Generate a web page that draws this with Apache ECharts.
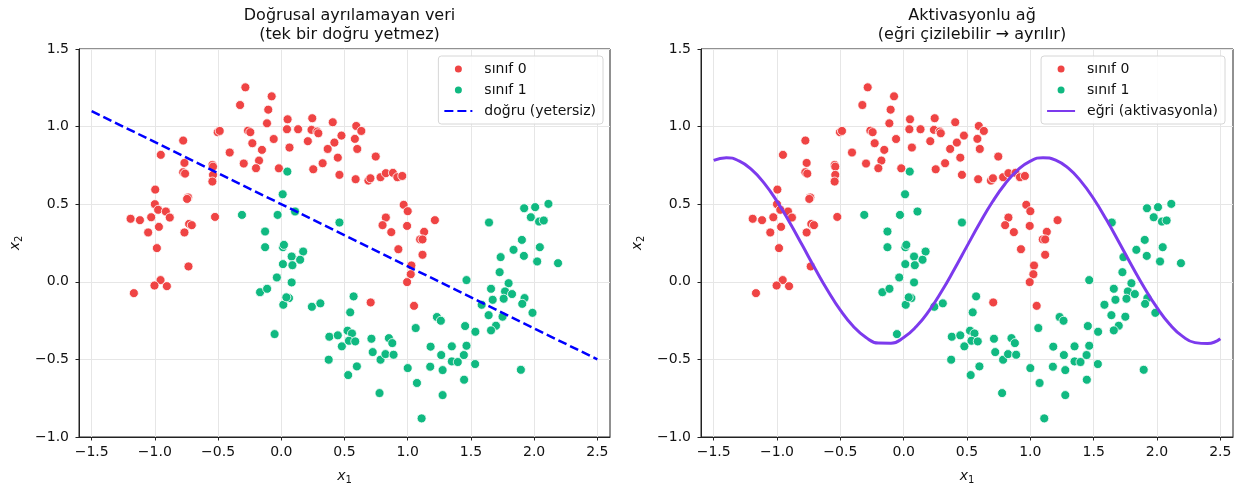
<!DOCTYPE html>
<html>
<head>
<meta charset="utf-8">
<script src="https://cdn.jsdelivr.net/npm/echarts@6/dist/echarts.min.js"></script>
<style>
  html, body { margin: 0; padding: 0; background: #fff; }
  #chart { width: 1239px; height: 491px; }
</style>
</head>
<body>
<div id="chart"></div>
<script>
// sınıf 0 (kırmızı) noktalar
const class0 = [
  [-0.284, 1.253], [-0.076, 1.195], [-0.326, 1.139], [-0.103, 1.109], [-0.113, 1.021],
  [0.05, 1.047], [0.045, 0.983], [-0.503, 0.964], [-0.487, 0.972], [-0.263, 0.974],
  [-0.245, 0.964], [-0.776, 0.91], [-0.06, 0.92], [-0.229, 0.893], [-0.153, 0.85],
  [-0.408, 0.833], [-0.953, 0.818], [0.065, 0.865], [-0.176, 0.781], [-0.297, 0.762],
  [-0.2, 0.732], [-0.019, 0.731], [-0.766, 0.766], [-0.776, 0.706], [-0.761, 0.697],
  [-0.545, 0.753], [-0.54, 0.742], [-0.54, 0.689], [-0.545, 0.646], [-0.997, 0.594],
  [-0.737, 0.543], [-0.745, 0.534], [-1.0, 0.5], [-0.974, 0.464], [-0.913, 0.453],
  [-0.882, 0.414], [-1.192, 0.406], [-1.118, 0.397], [-1.029, 0.416], [-0.968, 0.354],
  [-1.053, 0.318], [-0.766, 0.318], [-0.729, 0.373], [-0.708, 0.365], [-0.524, 0.418],
  [-0.984, 0.217], [-0.734, 0.099], [-0.955, 0.011], [-1.003, -0.024], [-0.905, -0.028],
  [-1.166, -0.073], [0.245, 1.054], [0.407, 1.028], [0.133, 0.983], [0.239, 0.979],
  [0.285, 0.968], [0.293, 0.957], [0.593, 1.004], [0.633, 0.972], [0.476, 0.942],
  [0.21, 0.906], [0.42, 0.897], [0.582, 0.921], [0.367, 0.856], [0.601, 0.856],
  [0.747, 0.807], [0.327, 0.764], [0.447, 0.8], [0.253, 0.725], [0.46, 0.689],
  [0.588, 0.661], [0.689, 0.652], [0.705, 0.667], [0.785, 0.674], [0.827, 0.7],
  [0.883, 0.702], [0.918, 0.674], [0.957, 0.682], [0.968, 0.496], [1.0, 0.455],
  [0.827, 0.414], [0.801, 0.365], [0.87, 0.32], [0.995, 0.36], [1.215, 0.397],
  [1.13, 0.322], [1.098, 0.273], [1.117, 0.273], [0.926, 0.21], [1.117, 0.174],
  [1.029, 0.105], [1.024, 0.049], [0.995, -0.002], [0.707, -0.133], [1.05, -0.155]
];

// sınıf 1 (yeşil) noktalar
const class1 = [
  [0.048, 0.71], [0.011, 0.564], [-0.311, 0.431], [-0.029, 0.431], [0.109, 0.453],
  [0.46, 0.382], [-0.128, 0.324], [-0.128, 0.223], [0.013, 0.223], [0.021, 0.238],
  [0.173, 0.195], [0.082, 0.163], [0.149, 0.142], [0.013, 0.114], [0.088, 0.107],
  [-0.035, 0.028], [0.082, -0.004], [-0.168, -0.067], [-0.112, -0.045], [0.061, -0.105],
  [0.016, -0.148], [0.04, -0.1], [0.242, -0.161], [0.309, -0.139], [0.572, -0.094],
  [0.545, -0.197], [-0.053, -0.337], [0.38, -0.354], [0.447, -0.345], [0.524, -0.315],
  [0.559, -0.333], [0.535, -0.38], [0.585, -0.384], [0.479, -0.416], [0.375, -0.502],
  [0.529, -0.601], [0.598, -0.545], [0.713, -0.367], [0.723, -0.453], [0.785, -0.502],
  [0.824, -0.466], [0.888, -0.47], [0.851, -0.363], [0.878, -0.395], [0.777, -0.717],
  [1.643, 0.382], [1.921, 0.474], [2.008, 0.481], [2.113, 0.502], [1.974, 0.416],
  [2.039, 0.388], [2.076, 0.395], [1.903, 0.27], [1.837, 0.206], [1.919, 0.167],
  [2.045, 0.223], [2.024, 0.131], [2.189, 0.12], [1.735, 0.159], [1.727, 0.062],
  [1.465, 0.011], [1.798, -0.009], [1.659, -0.045], [1.77, -0.062], [1.825, -0.079],
  [1.672, -0.116], [1.759, -0.109], [1.924, -0.105], [1.906, -0.142], [1.585, -0.148],
  [1.64, -0.215], [1.75, -0.225], [1.987, -0.2], [1.698, -0.283], [1.659, -0.313],
  [1.231, -0.227], [1.262, -0.251], [1.063, -0.298], [1.454, -0.285], [1.535, -0.322],
  [1.465, -0.412], [1.349, -0.416], [1.181, -0.418], [1.265, -0.472], [1.444, -0.472],
  [1.349, -0.513], [1.396, -0.517], [1.533, -0.53], [1.0, -0.556], [1.178, -0.547],
  [1.276, -0.569], [1.895, -0.567], [1.073, -0.652], [1.446, -0.631], [1.276, -0.73],
  [1.11, -0.88]
];

// doğru (yetersiz)
const lineX = [-1.5, 2.5];
const lineY = [1.1, -0.5];

// eğri (aktivasyonla)
const curveX = [
  -1.5, -1.4, -1.3, -1.2, -1.1, -1.0, -0.9, -0.8, -0.7, -0.6, -0.5, -0.4, -0.3, -0.2,
  -0.1, 0.0, 0.1, 0.2, 0.3, 0.4, 0.5, 0.6, 0.7, 0.8, 0.9, 1.0, 1.1, 1.2, 1.3, 1.4,
  1.5, 1.6, 1.7, 1.8, 1.9, 2.0, 2.1, 2.2, 2.3, 2.4, 2.5
];
const curveY = [
  0.783, 0.800, 0.779, 0.723, 0.634, 0.518, 0.382, 0.235, 0.086, -0.056, -0.183, -0.285,
  -0.357, -0.395, -0.396, -0.359, -0.288, -0.187, -0.061, 0.081, 0.230, 0.377, 0.514,
  0.630, 0.720, 0.778, 0.800, 0.784, 0.732, 0.647, 0.535, 0.401, 0.255, 0.105, -0.038,
  -0.167, -0.273, -0.350, -0.392, -0.398, -0.367
];

const xTicks = [-1.5, -1.0, -0.5, 0.0, 0.5, 1.0, 1.5, 2.0, 2.5];

const FONT = 'DejaVu Sans';
const RED = '#ef4444';
const GREEN = '#10b981';

const chart = echarts.init(document.getElementById('chart'));

function fmt(v) {
  return v.toFixed(1).replace('-', '\u2212');
}

const nameRich = {
  i: { fontFamily: FONT, fontStyle: 'italic', fontSize: 14, color: '#111' },
  s: { fontFamily: FONT, fontSize: 10, color: '#111', padding: [8, 0, 0, 0] }
};

function xAxisFor(gi) {
  return {
    type: 'value', gridIndex: gi, min: -1.6, max: 2.6,
    name: '{i|x}{s|1}', nameLocation: 'middle', nameGap: 30,
    nameTextStyle: { rich: nameRich },
    axisLine: { show: true, onZero: false, lineStyle: { color: '#222' } },
    axisTick: { show: true, length: 3.5, customValues: xTicks, lineStyle: { color: '#222' } },
    axisLabel: { customValues: xTicks, formatter: fmt, margin: 8, fontFamily: FONT, fontSize: 14, color: '#111' },
    splitLine: { show: true, customValues: xTicks, lineStyle: { color: '#e6e6e6', width: 1 } }
  };
}

function yAxisFor(gi) {
  return {
    type: 'value', gridIndex: gi, min: -1.0, max: 1.5, interval: 0.5,
    name: '{i|x}{s|2}', nameLocation: 'middle', nameGap: 55, nameRotate: 90,
    nameTextStyle: { rich: nameRich },
    axisLine: { show: true, onZero: false, lineStyle: { color: '#222' } },
    axisTick: { show: true, length: 3.5, lineStyle: { color: '#222' } },
    axisLabel: { formatter: fmt, margin: 10, fontFamily: FONT, fontSize: 14, color: '#111' },
    splitLine: { show: true, lineStyle: { color: '#e6e6e6', width: 1 } }
  };
}

function legendFor(right, extra) {
  return {
    orient: 'vertical', right: right, top: 56,
    data: [
      { name: 'sınıf 0', icon: 'circle' },
      { name: 'sınıf 1', icon: 'circle' },
      { name: extra, itemStyle: { opacity: 0 } }
    ],
    itemWidth: 28, itemHeight: 9, itemGap: 7,
    padding: [6, 7, 6, 5],
    borderColor: '#d6d6d6', borderWidth: 1, borderRadius: 3,
    backgroundColor: 'rgba(255,255,255,0.85)',
    textStyle: { fontFamily: FONT, fontSize: 14, color: '#111', lineHeight: 14, padding: [0, 0, 0, 7] }
  };
}

function scatterFor(name, data, color, gi) {
  return {
    name: name, type: 'scatter', xAxisIndex: gi, yAxisIndex: gi,
    data: data, symbolSize: 9,
    itemStyle: { color: color, opacity: 1, borderColor: '#fff', borderWidth: 0.8 },
    z: 2
  };
}

const option = {
  animation: false,
  textStyle: { fontFamily: FONT },
  title: [
    {
      text: 'Doğrusal ayrılamayan veri\n(tek bir doğru yetmez)',
      left: 344.5, textAlign: 'center', top: 1,
      textStyle: { fontFamily: FONT, fontSize: 16, fontWeight: 'normal', color: '#111', lineHeight: 19 }
    },
    {
      text: 'Aktivasyonlu ağ\n(eğri çizilebilir → ayrılır)',
      left: 967, textAlign: 'center', top: 1,
      textStyle: { fontFamily: FONT, fontSize: 16, fontWeight: 'normal', color: '#111', lineHeight: 19 }
    }
  ],
  legend: [
    legendFor(636, 'doğru (yetersiz)'),
    legendFor(14, 'eğri (aktivasyonla)')
  ],
  grid: [
    { left: 79, right: 629, top: 49, bottom: 54, show: true, borderColor: '#222', borderWidth: 1, backgroundColor: 'transparent' },
    { left: 701, right: 6, top: 49, bottom: 54, show: true, borderColor: '#222', borderWidth: 1, backgroundColor: 'transparent' }
  ],
  xAxis: [xAxisFor(0), xAxisFor(1)],
  yAxis: [yAxisFor(0), yAxisFor(1)],
  series: [
    scatterFor('sınıf 0', class0, RED, 0),
    scatterFor('sınıf 1', class1, GREEN, 0),
    {
      name: 'doğru (yetersiz)', type: 'line', xAxisIndex: 0, yAxisIndex: 0,
      data: lineX.map((x, i) => [x, lineY[i]]),
      showSymbol: false, symbol: 'none',
      lineStyle: { color: '#0000ff', width: 2.5, type: [9, 4] },
      itemStyle: { color: '#0000ff' },
      z: 3
    },
    scatterFor('sınıf 0', class0, RED, 1),
    scatterFor('sınıf 1', class1, GREEN, 1),
    {
      name: 'eğri (aktivasyonla)', type: 'line', xAxisIndex: 1, yAxisIndex: 1,
      data: curveX.map((x, i) => [x, curveY[i]]),
      showSymbol: false, symbol: 'none', smooth: true,
      lineStyle: { color: '#7c3aed', width: 3 },
      itemStyle: { color: '#7c3aed' },
      z: 3
    }
  ]
};

chart.setOption(option);
window.addEventListener('resize', () => chart.resize());
</script>
</body>
</html>
